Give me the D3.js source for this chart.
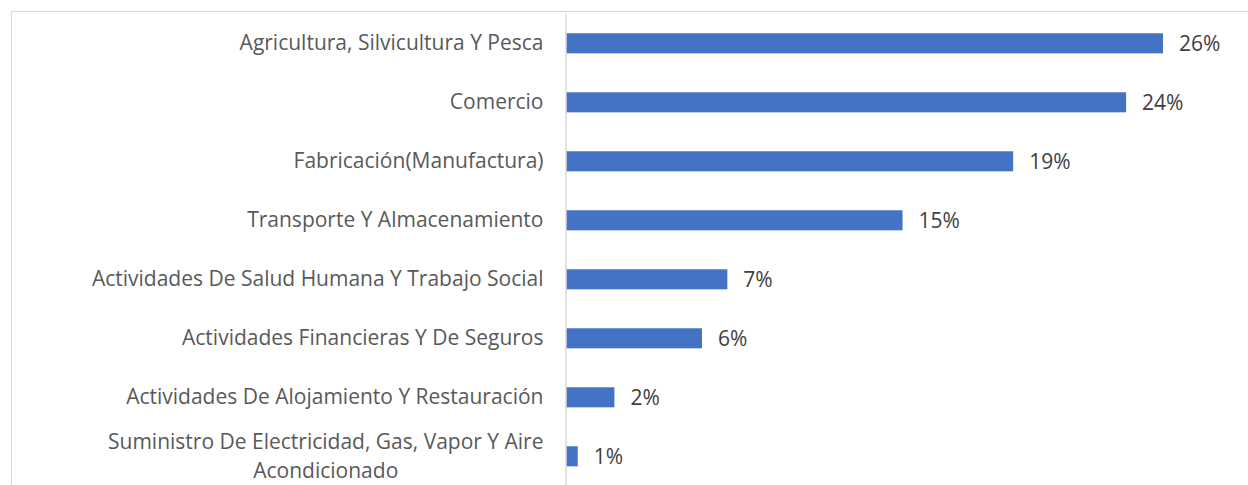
<!DOCTYPE html>
<html><head>
<meta charset="utf-8">
<script src="https://d3js.org/d3.v7.min.js"></script>
<style>
  body { margin: 0; background: #fff; }
  svg { display: block; font-family: "Open Sans", sans-serif; }
</style>
</head>
<body>
<svg id="chart" width="1248" height="485"></svg>
<script>

// sectors, top to bottom ("\n" = where the label wraps)
const sectors = [
  "Agricultura, Silvicultura Y Pesca",
  "Comercio",
  "Fabricación(Manufactura)",
  "Transporte Y Almacenamiento",
  "Actividades De Salud Humana Y Trabajo Social",
  "Actividades Financieras Y De Seguros",
  "Actividades De Alojamiento Y Restauración",
  "Suministro De Electricidad, Gas, Vapor Y Aire\nAcondicionado"
];
// share of each sector, in percent
const shares = [25.9, 24.3, 19.4, 14.6, 7.0, 5.9, 2.1, 0.51];

const svg = d3.select("#chart");
const plotLeft = 566;
const fontSize = 21;

// frame of the chart area (only top and left edges are inside the picture)
svg.append("rect")
   .attr("x", 11.5).attr("y", 11.5)
   .attr("width", 1300).attr("height", 500)
   .attr("fill", "none").attr("stroke", "#d9d9d9").attr("stroke-width", 1);

const x = d3.scaleLinear().domain([0, 30]).range([plotLeft, plotLeft + 691.5]);
const y = d3.scaleBand().domain(sectors).range([13.8, 485.8])
            .paddingInner(0.66).paddingOuter(0.33);

// bars
svg.append("g").selectAll("rect").data(sectors)
   .join("rect")
   .attr("x", x(0))
   .attr("y", d => y(d))
   .attr("width", (d, i) => x(shares[i]) - x(0))
   .attr("height", y.bandwidth())
   .attr("fill", "#4472c4");

// value labels
svg.append("g").selectAll("text").data(sectors)
   .join("text")
   .attr("x", (d, i) => x(shares[i]) + 16)
   .attr("y", d => y(d) + y.bandwidth() / 2)
   .attr("dy", "0.35em")
   .attr("font-size", fontSize)
   .attr("fill", "#404040")
   .text((d, i) => Math.round(shares[i]) + "%");

// category axis
const yAxis = svg.append("g")
   .attr("transform", "translate(" + (plotLeft - 0.5) + ",0)")
   .call(d3.axisLeft(y).tickSize(0).tickPadding(22));

yAxis.select(".domain").attr("stroke", "#d9d9d9").attr("stroke-width", 1.5);

yAxis.selectAll(".tick text")
   .attr("font-size", fontSize)
   .attr("font-family", "'Open Sans', sans-serif")
   .attr("fill", "#595959")
   .each(function(d) {
     const lines = d.split("\n");
     if (lines.length < 2) return;
     const t = d3.select(this).text(null).attr("dy", null);
     const lineGap = 29;
     const spans = lines.map((line, k) =>
       t.append("tspan")
        .attr("y", (k - (lines.length - 1) / 2) * lineGap)
        .attr("dy", "0.35em")
        .text(line));
     // wrapped lines are centred on each other, block right-aligned
     const widths = spans.map(s => s.node().getComputedTextLength());
     const w = d3.max(widths);
     const right = -22;
     t.attr("text-anchor", "middle");
     spans.forEach(s => s.attr("x", right - w / 2));
   });

</script>
</body>
</html>
